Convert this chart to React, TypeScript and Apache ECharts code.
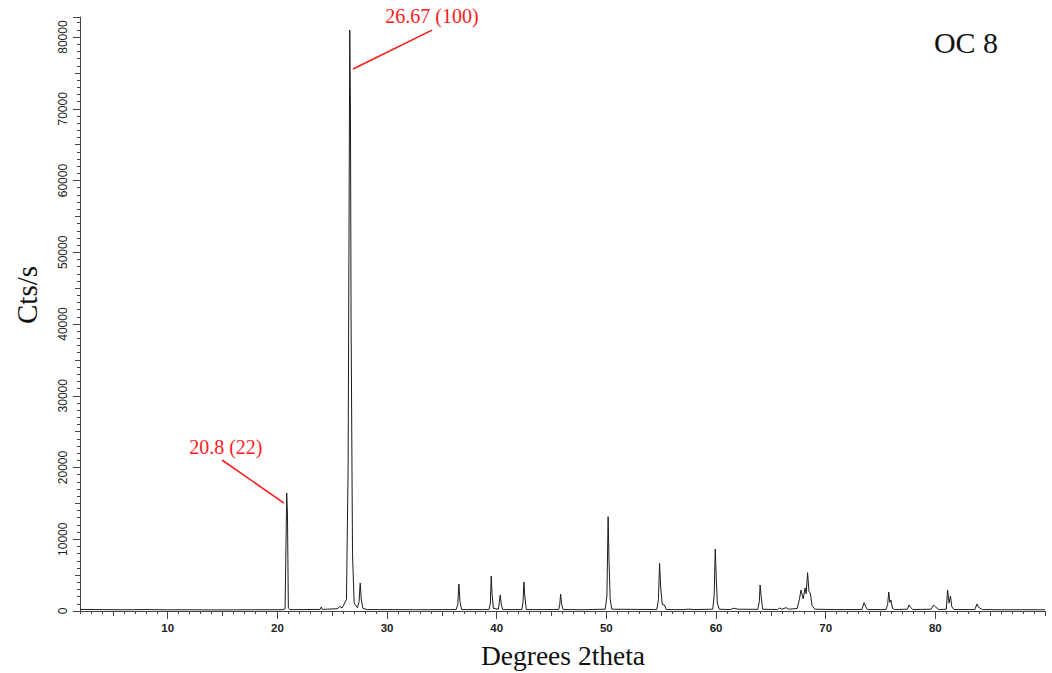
import React, { useEffect, useRef } from "react";
import * as echarts from "echarts";

// ---- Data ----
const twoTheta: number[] = [
  2.0, 4.0, 6.0, 8.0, 10.0, 12.0, 14.0, 16.0, 18.0, 20.5,
  20.7, 20.85, 20.92, 21.0, 21.15,
  23.9, 24.0, 24.1,
  25.5, 25.7, 25.9, 26.3, 26.45, 26.6, 26.66, 26.72, 26.85, 27.0, 27.3, 27.45, 27.55, 27.65, 27.8, 28.2,
  30.0, 33.0, 36.3, 36.45, 36.55, 36.65, 36.8,
  39.3, 39.42, 39.5, 39.58, 39.7, 40.15, 40.25, 40.32, 40.42, 40.55,
  42.3, 42.4, 42.48, 42.56, 42.7,
  45.65, 45.75, 45.83, 45.92, 46.05,
  48.0, 49.9, 50.05, 50.16, 50.24, 50.35, 50.5,
  54.6, 54.75, 54.85, 54.95, 55.1, 55.3, 55.45,
  57.0, 57.5, 58.0,
  59.7, 59.83, 59.93, 60.02, 60.12, 60.3,
  61.3, 61.6, 62.0, 63.8, 63.95, 64.02, 64.12, 64.25,
  65.6, 65.8, 66.0, 66.4, 66.6,
  67.4, 67.6, 67.75, 67.95, 68.12, 68.22, 68.35, 68.48, 68.6, 68.75, 69.0,
  71.0, 73.3, 73.5, 73.65, 73.8,
  75.5, 75.65, 75.75, 75.85, 75.95, 76.1, 76.3,
  77.45, 77.6, 77.75, 77.95,
  79.6, 79.85, 80.0, 80.3,
  81.0, 81.12, 81.25, 81.38, 81.5, 81.7,
  83.6, 83.8, 83.95, 84.3,
  86.0, 88.0, 90.0,
];
const counts: number[] = [
  220, 190, 170, 200, 160, 170, 150, 160, 170, 180,
  300, 16450, 13380, 400, 190,
  220, 560, 220,
  320, 650, 420, 1600, 20000, 80975, 70800, 41000, 8000, 1100, 450, 1300, 3900, 1600, 350, 200,
  190, 180, 200, 900, 3760, 1300, 200,
  200, 1100, 4880, 2300, 350, 250, 1300, 2230, 900, 200,
  200, 1300, 4040, 2100, 200,
  200, 900, 2370, 1000, 200,
  180, 250, 2100, 13150, 7110, 1600, 250,
  200, 1600, 6650, 3350, 900, 840, 200,
  190, 260, 200,
  250, 2100, 8640, 4600, 1100, 250,
  200, 380, 250, 230, 1300, 3620, 2000, 250,
  200, 420, 250, 470, 250,
  350, 1600, 2930, 1700, 3200, 2400, 5340, 2700, 2500, 800, 250,
  200, 200, 1160, 600, 200,
  200, 900, 2650, 1200, 1530, 350, 200,
  250, 840, 500, 200,
  250, 840, 600, 200,
  250, 2930, 1100, 2090, 600, 200,
  200, 980, 500, 200,
  170, 180, 170,
];

// axis ticks
const xMin = 2;
const xMax = 90;
const xFives = [5, 10, 15, 20, 25, 30, 35, 40, 45, 50, 55, 60, 65, 70, 75, 80, 85, 90];
const xTens = [10, 20, 30, 40, 50, 60, 70, 80];
const yMin = 0;
const yMax = 82800;

// annotations: [label, label anchor (2θ, cts), line start, line end]
const annotationLabels = ["26.67 (100)", "20.8 (22)"];
const annotationTextAt: number[][] = [[34.1, 82900], [15.3, 22800]];
const annotationFrom: number[][] = [[34.1, 80975], [14.95, 21045]];
const annotationTo: number[][] = [[26.9, 75540], [20.6, 15050]];

const sampleName = "OC 8";
const xTitle = "Degrees 2theta";
const yTitle = "Cts/s";

export default function App() {
  const ref = useRef<HTMLDivElement>(null);

  useEffect(() => {
    if (!ref.current) return;
    const chart = echarts.init(ref.current, undefined, { renderer: "svg" });
    const axisColor = "#444";
    const sans = "Liberation Sans, Arial, sans-serif";
    const serif = "Liberation Serif, Times New Roman, serif";

    const xBase = {
      type: "value" as const,
      min: xMin,
      max: xMax,
      position: "bottom" as const,
      splitLine: { show: false },
      gridIndex: 0,
    };
    const yBase = {
      type: "value" as const,
      min: yMin,
      max: yMax,
      position: "left" as const,
      splitLine: { show: false },
      gridIndex: 0,
    };

    const option: any = {
      animation: false,
      backgroundColor: "#ffffff",
      grid: { left: 80, right: 7, top: 17, bottom: 62, containLabel: false },
      xAxis: [
        {
          ...xBase,
          interval: 1,
          axisLine: { show: true, lineStyle: { color: axisColor, width: 1 } },
          axisTick: { show: true, length: 3, lineStyle: { color: axisColor } },
          axisLabel: { show: false },
        },
        {
          ...xBase,
          axisLine: { show: false },
          axisTick: { show: true, length: 5, customValues: xFives, lineStyle: { color: axisColor } },
          axisLabel: { show: false },
        },
        {
          ...xBase,
          axisLine: { show: false },
          axisTick: { show: true, length: 8, customValues: xTens, lineStyle: { color: axisColor } },
          axisLabel: {
            show: true,
            customValues: xTens,
            margin: 11,
            fontFamily: sans,
            fontWeight: "bold",
            fontSize: 11.5,
            color: "#222",
          },
        },
      ],
      yAxis: [
        {
          ...yBase,
          interval: 1000,
          axisLine: { show: true, lineStyle: { color: axisColor, width: 1 } },
          axisTick: { show: true, length: 3, lineStyle: { color: axisColor } },
          axisLabel: { show: false },
        },
        {
          ...yBase,
          interval: 5000,
          axisLine: { show: false },
          axisTick: { show: true, length: 5, lineStyle: { color: axisColor } },
          axisLabel: { show: false },
        },
        {
          ...yBase,
          interval: 10000,
          axisLine: { show: false },
          axisTick: { show: true, length: 7, lineStyle: { color: axisColor } },
          axisLabel: {
            show: true,
            rotate: 90,
            margin: 11,
            fontFamily: sans,
            fontSize: 12,
            color: "#222",
            formatter: (v: number) => (v % 10000 === 0 ? String(v) : ""),
          },
        },
      ],
      series: [
        {
          type: "line",
          xAxisIndex: 0,
          yAxisIndex: 0,
          data: twoTheta.map((x, i) => [x, counts[i]]),
          showSymbol: false,
          symbol: "none",
          lineStyle: { color: "#1c1c1c", width: 1 },
          silent: true,
          clip: false,
          markLine: {
            silent: true,
            symbol: ["none", "none"],
            label: { show: false },
            lineStyle: { color: "#ff1a1a", width: 1.6, type: "solid" },
            emphasis: { disabled: true },
            data: annotationFrom.map((f, i) => [
              { coord: f },
              { coord: annotationTo[i] },
            ]),
          },
        },
      ],
    };
    chart.setOption(option);

    const texts = annotationLabels.map((label, i) => {
      const p = chart.convertToPixel({ xAxisIndex: 0, yAxisIndex: 0 }, annotationTextAt[i]) as number[];
      return {
        type: "text",
        x: p[0],
        y: p[1],
        style: {
          text: label,
          fill: "#ff1a1a",
          font: `20px ${serif}`,
          textAlign: "center",
          textVerticalAlign: "middle",
        },
        silent: true,
      };
    });

    chart.setOption({
      graphic: [
        ...texts,
        {
          type: "text",
          x: 966,
          y: 42,
          style: {
            text: sampleName,
            fill: "#111",
            font: `30px ${serif}`,
            textAlign: "center",
            textVerticalAlign: "middle",
          },
          silent: true,
        },
        {
          type: "text",
          x: 563,
          y: 655,
          style: {
            text: xTitle,
            fill: "#111",
            font: `27.5px ${serif}`,
            textAlign: "center",
            textVerticalAlign: "middle",
          },
          silent: true,
        },
        {
          type: "text",
          x: 27,
          y: 295,
          rotation: Math.PI / 2,
          style: {
            text: yTitle,
            fill: "#111",
            font: `29px ${serif}`,
            textAlign: "center",
            textVerticalAlign: "middle",
          },
          silent: true,
        },
      ],
    });

    return () => chart.dispose();
  }, []);

  return (
    <div
      ref={ref}
      style={{ position: "absolute", left: 0, top: 0, width: 1052, height: 673 }}
    />
  );
}
